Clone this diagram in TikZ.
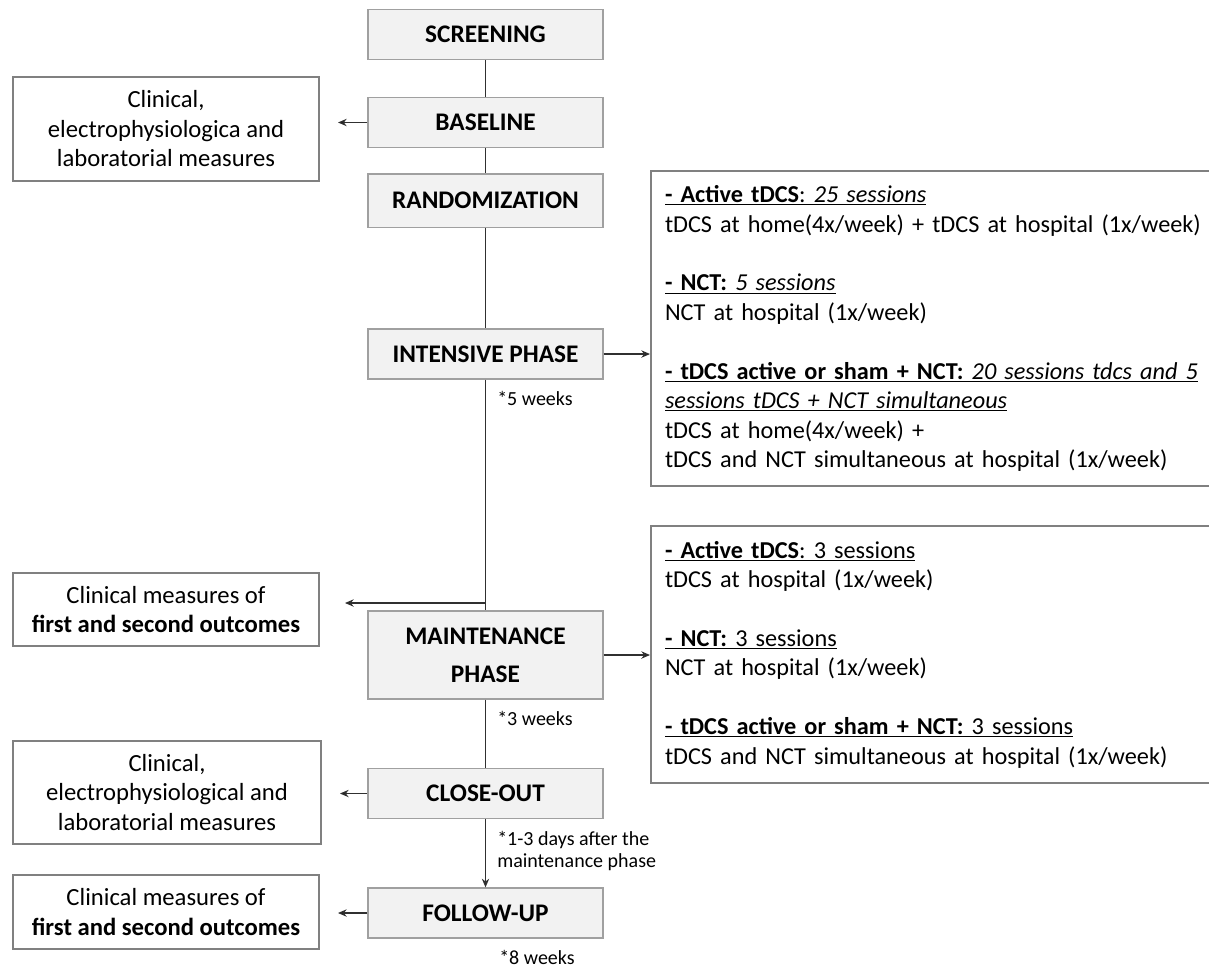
\documentclass[tikz,border=0pt]{standalone}
\usepackage{fontspec}
\setmainfont{Carlito}
\usetikzlibrary{arrows.meta}
\definecolor{phasefill}{HTML}{F2F2F2}
\definecolor{phaseline}{HTML}{A0A0A0}
\definecolor{frameline}{HTML}{808080}
\definecolor{linkline}{HTML}{303030}

\begin{document}
\begin{tikzpicture}
[x=0.75pt,y=-0.75pt,>={Stealth[length=6.5pt,width=5.5pt]},%
  phase/.style={draw=phaseline,fill=phasefill,line width=1pt,minimum width=176.25pt,minimum height=37.5pt,align=center,font=\fontsize{19}{22}\selectfont\bfseries},%
  measure/.style={draw=frameline,line width=1.5pt,minimum width=229.5pt,align=center,font=\fontsize{18.5}{22.125}\selectfont},%
  arm/.style={draw=frameline,line width=1.5pt,anchor=north west,align=left,text width=420pt,inner xsep=10.5pt,font=\fontsize{18.2}{22.125}\selectfont},%
  note/.style={anchor=west,inner sep=0pt,align=left,font=\fontsize{15}{16.5}\selectfont},%
  link/.style={draw=linkline,line width=0.9pt}]
\useasboundingbox (0,0) rectangle (1209,965);
\node[phase] (scr) at (485.5,34.5) {SCREENING};
\node[phase] (bas) at (485.5,122.5) {BASELINE};
\node[phase,minimum height=40pt] (rnd) at (485.5,200.5) {RANDOMIZATION};
\node[phase] (int) at (485.5,354) {INTENSIVE PHASE};
\node[phase,minimum height=66pt] (mnt) at (485.5,655) {MAINTENANCE\\[6.5pt]PHASE};
\node[phase] (cls) at (485.5,793.5) {CLOSE-OUT};
\node[phase] (fol) at (485.5,913) {FOLLOW-UP};
\node[measure,minimum height=78pt] (lb1) at (166,129)
  {Clinical,\\electrophysiologica and\\laboratorial measures};
\node[measure,minimum height=55pt] (lb2) at (166,609.5)
  {Clinical measures of\\\textbf{first and second outcomes}};
\node[measure,minimum height=77pt,minimum width=231pt] (lb3) at (167,792.5)
  {Clinical,\\electrophysiological and\\laboratorial measures};
\node[measure,minimum height=55.5pt] (lb4) at (166,912)
  {Clinical measures of\\\textbf{first and second outcomes}};
\node[arm,minimum height=236.25pt] (rb1) at (650,170)
  {\underline{\textbf{- Active tDCS}: \textit{25 sessions}}\\
   tDCS at home(4x/week) + tDCS at hospital (1x/week)\\[22pt]
   \underline{\textbf{- NCT:} \textit{5 sessions}}\\
   NCT at hospital (1x/week)\\[22pt]
   \underline{\textbf{- tDCS active or sham + NCT:} \textit{20 sessions tdcs and 5}}\\
   \underline{\textit{sessions tDCS + NCT simultaneous}}\\
   tDCS at home(4x/week) +\\
   tDCS and NCT simultaneous at hospital (1x/week)};
\node[arm,minimum height=192.75pt] (rb2) at (650,525)
  {\underline{\textbf{- Active tDCS}: 3 sessions}\\
   tDCS at hospital (1x/week)\\[22pt]
   \underline{\textbf{- NCT:} 3 sessions}\\
   NCT at hospital (1x/week)\\[22pt]
   \underline{\textbf{- tDCS active or sham + NCT:} 3 sessions}\\
   tDCS and NCT simultaneous at hospital (1x/week)};
\node[note] (w5) at (497,398) {*5 weeks};
\node[note] (w3) at (497,718) {*3 weeks};
\node[note] (days) at (497,851) {*1-3 days after the\\ maintenance phase};
\node[note] (w8) at (499,957) {*8 weeks};
\coordinate (split) at (485.5,603);
\path[link]
(scr) edge (bas)
(bas) edge (rnd)
(rnd) edge (int)
(int) edge (mnt)
(mnt) edge (cls)
(cls) edge[->] (fol)
(int.east) edge[->] (int.east -| rb1.west)
(mnt.east) edge[->] (mnt.east -| rb2.west)
(bas.west) edge[->,shorten >=13.5pt] (bas.west -| lb1.east)
(split) edge[->,shorten >=18.75pt] (split -| lb2.east)
(cls.west) edge[->,shorten >=13.5pt] (cls.west -| lb3.east)
(fol.west) edge[->,shorten >=13.5pt] (fol.west -| lb4.east);
\end{tikzpicture}
\end{document}
